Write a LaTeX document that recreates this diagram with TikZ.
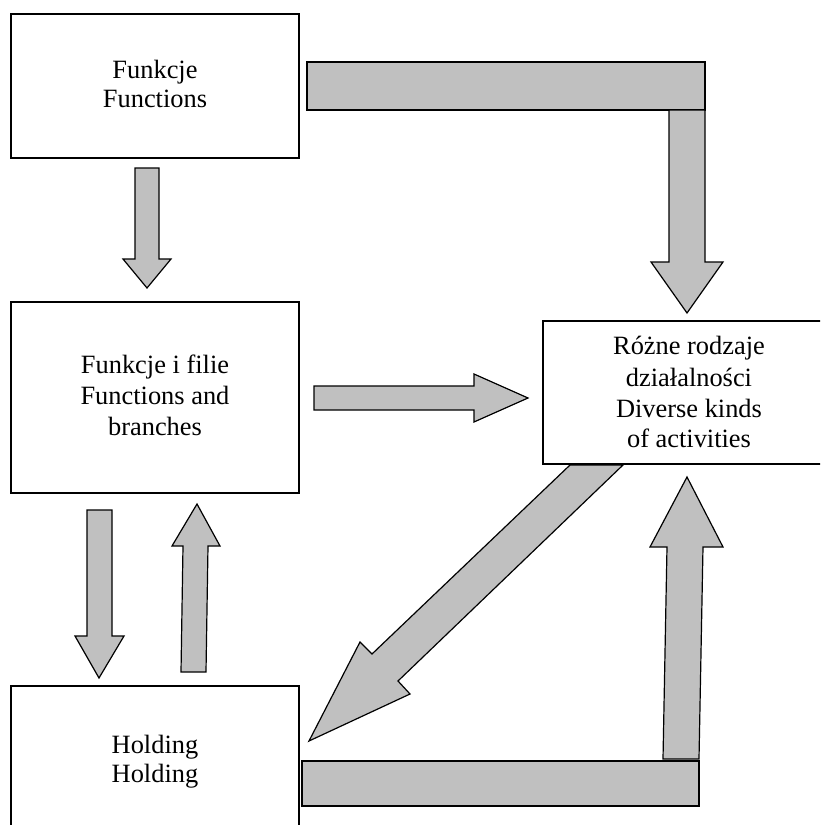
\documentclass[tikz,border=0pt]{standalone}
\usepackage{fontspec}
\setmainfont{Liberation Serif}
\definecolor{arrowgray}{HTML}{C0C0C0}
\begin{document}
\begin{tikzpicture}[x=1pt,y=-1pt,
  box/.style={draw, line width=1.6pt, fill=white, inner sep=0pt, rectangle},
  edge/.style={draw, line width=1.6pt},
  blk/.style={draw, line width=1.2pt, fill=arrowgray, line join=miter},
  lbl/.style={anchor=base, inner sep=0pt, font=\fontsize{26.4}{30}\selectfont}]
\useasboundingbox (0,0) rectangle (820,825);
\clip (0,0) rectangle (820,825);

% boxes (the last two run past the page edge)
\node[box, minimum width=288pt, minimum height=144pt] (fn)  at (155,86)    {};
\node[box, minimum width=288pt, minimum height=191pt] (br)  at (155,397.5) {};
\node[inner sep=0pt, minimum width=327pt, minimum height=143pt] (dv) at (706.5,392.5) {};
\draw[edge] (dv.north east) -- (dv.north west) -- (dv.south west) -- (dv.south east);
\node[box, minimum width=288pt, minimum height=154pt] (hd)  at (155,763)   {};

% labels
\node[lbl] (fn1) at (155,78)  {Funkcje};
\node[lbl] (fn2) at (155,107) {Functions};
\node[lbl] (br1) at (155,373) {Funkcje i filie};
\node[lbl] (br2) at (155,404) {Functions and};
\node[lbl] (br3) at (155,435) {branches};
\node[lbl] (dv1) at (689,354) {Różne rodzaje};
\node[lbl] (dv2) at (689,386) {działalności};
\node[lbl] (dv3) at (689,417) {Diverse kinds};
\node[lbl] (dv4) at (689,447) {of activities};
\node[lbl] (hd1) at (155,753) {Holding};
\node[lbl] (hd2) at (155,782) {Holding};

% Functions -> Functions and branches
\draw[blk] (135,168) -- (159,168) -- (159,259) -- (171,259) -- (147,288)
  -- (123,259) -- (135,259) -- cycle;

% Functions -> Diverse kinds of activities (bent)
\draw[blk] (307,62) rectangle (705,110);
\draw[blk] (669,110) -- (705,110) -- (705,262) -- (723,262) -- (687,313)
  -- (651,262) -- (669,262) -- cycle;

% Functions and branches -> Diverse kinds of activities
\draw[blk] (314,386) -- (474,386) -- (474,374) -- (528,398) -- (474,422)
  -- (474,410) -- (314,410) -- cycle;

% Functions and branches -> Holding
\draw[blk] (87,510) -- (112,510) -- (112,636) -- (124,636) -- (99,678)
  -- (75,636) -- (87,636) -- cycle;

% Holding -> Functions and branches
\draw[blk] (181,672) -- (206,672) -- (208,546) -- (220,546) -- (197,504)
  -- (172,546) -- (183,546) -- cycle;

% Diverse kinds of activities -> Holding (diagonal)
\draw[blk] (570,465) -- (623,465) -- (398,681) -- (410,694) -- (309,741)
  -- (360,642) -- (372,654) -- cycle;

% Holding -> Diverse kinds of activities (bent)
\draw[blk] (302,761) rectangle (699,806);
\draw[blk] (663,759) -- (699,759) -- (703,547) -- (723,547) -- (687,477)
  -- (650,547) -- (667,547) -- cycle;
\end{tikzpicture}
\end{document}
